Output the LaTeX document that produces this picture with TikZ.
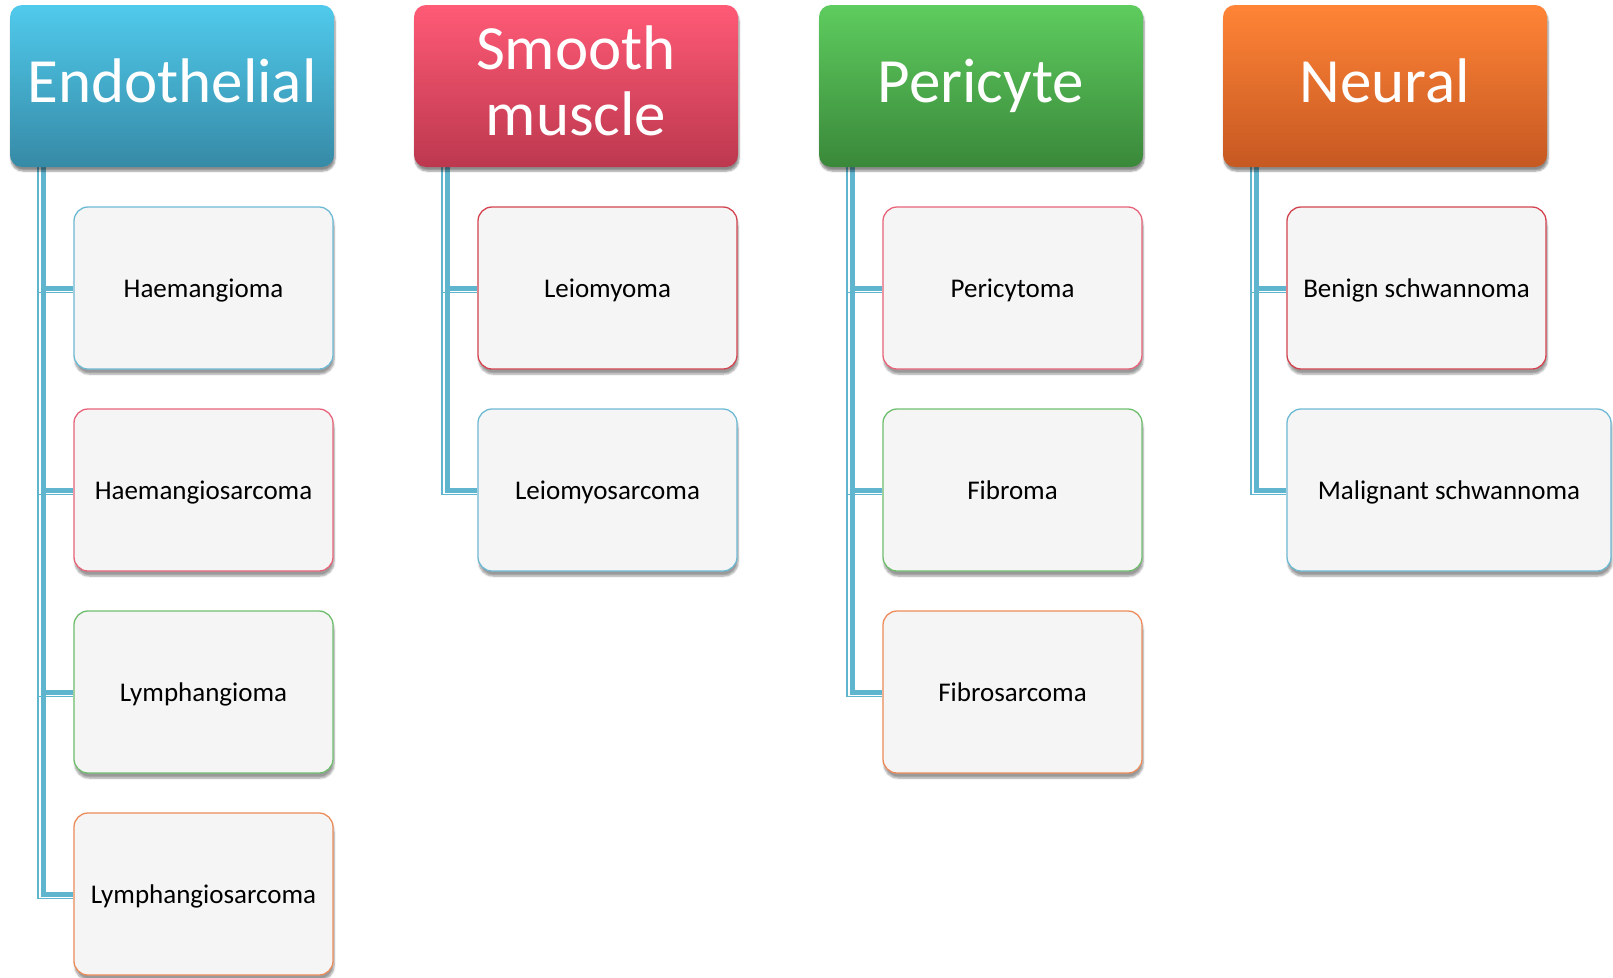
\documentclass[tikz,border=0pt]{standalone}
\usepackage{fontspec}
\setmainfont{Carlito}
\usetikzlibrary{shadows.blur,backgrounds}
\definecolor{endoT}{RGB}{80,202,236}
\definecolor{endoB}{RGB}{54,138,166}
\definecolor{smT}{RGB}{255,90,118}
\definecolor{smB}{RGB}{188,56,78}
\definecolor{perT}{RGB}{94,204,94}
\definecolor{perB}{RGB}{58,136,58}
\definecolor{neuT}{RGB}{255,132,54}
\definecolor{neuB}{RGB}{198,88,34}
\definecolor{connc}{RGB}{95,180,206}
\definecolor{bBlue}{RGB}{110,185,212}
\definecolor{bRed}{RGB}{212,68,80}
\definecolor{bPink}{RGB}{232,100,122}
\definecolor{bGreen}{RGB}{110,190,110}
\definecolor{bOrange}{RGB}{236,140,90}
\definecolor{childfill}{RGB}{245,245,245}
\newcommand{\uptext}[2]{\raisebox{#1}[\height][\depth]{\begin{tabular}{@{}c@{}}#2\end{tabular}}}
\tikzset{
  hdr/.style={rectangle, rounded corners=12pt, minimum width=324pt, minimum height=162pt,
    inner sep=0pt, text=white, align=center, font=\fontsize{63}{66}\selectfont,
    blur shadow={shadow xshift=1pt, shadow yshift=-4pt, shadow opacity=45, shadow blur steps=6}},
  kid/.style={rectangle, rounded corners=14pt, minimum width=259pt, minimum height=162pt,
    inner sep=0pt, fill=childfill, draw=#1, line width=1.3pt, align=center,
    font=\fontsize{27}{32}\selectfont, text depth=0pt,
    blur shadow={shadow xshift=1pt, shadow yshift=-5pt, shadow opacity=40, shadow blur steps=6}},
  conn/.style={draw=connc, line width=5pt},
  connthin/.style={draw=connc, line width=1.5pt},
}
\begin{document}
\begin{tikzpicture}[x=1pt,y=-1pt]
\useasboundingbox (0,0) rectangle (1613,977);
% headers
\node[hdr, top color=endoT, bottom color=endoB] (h1) at (172,86) {\uptext{-3pt}{Endothelial}};
\node[hdr, top color=smT, bottom color=smB] (h2) at (576,86) {\uptext{-3pt}{Smooth\\muscle}};
\node[hdr, top color=perT, bottom color=perB] (h3) at (981,86) {\uptext{-3pt}{Pericyte}};
\node[hdr, top color=neuT, bottom color=neuB] (h4) at (1385,86) {\uptext{-3pt}{Neural}};
% column 1
\node[kid=bBlue] (c11) at (203.5,288) {Haemangioma};
\node[kid=bPink] (c12) at (203.5,490) {Haemangiosarcoma};
\node[kid=bGreen] (c13) at (203.5,692) {Lymphangioma};
\node[kid=bOrange] (c14) at (203.5,894) {Lymphangiosarcoma};
% column 2
\node[kid=bRed] (c21) at (607.5,288) {Leiomyoma};
\node[kid=bBlue] (c22) at (607.5,490) {Leiomyosarcoma};
% column 3
\node[kid=bPink] (c31) at (1012.5,288) {Pericytoma};
\node[kid=bGreen] (c32) at (1012.5,490) {Fibroma};
\node[kid=bOrange] (c33) at (1012.5,692) {Fibrosarcoma};
% column 4
\node[kid=bRed] (c41) at (1416.5,288) {Benign schwannoma};
\node[kid=bBlue, minimum width=324pt] (c42) at (1449,490) {Malignant schwannoma};
% connectors
\begin{scope}[on background layer]
\foreach \h/\c in {h1/c11,h1/c12,h1/c13,h1/c14,h2/c21,h2/c22,h3/c31,h3/c32,h3/c33,h4/c41,h4/c42}{
  \draw[connthin] ([xshift=28pt]\h.south west) |- ([yshift=-4.5pt]\c.west);
  \draw[conn] ([xshift=33.5pt]\h.south west) |- (\c.west);
}
\end{scope}
\end{tikzpicture}
\end{document}
